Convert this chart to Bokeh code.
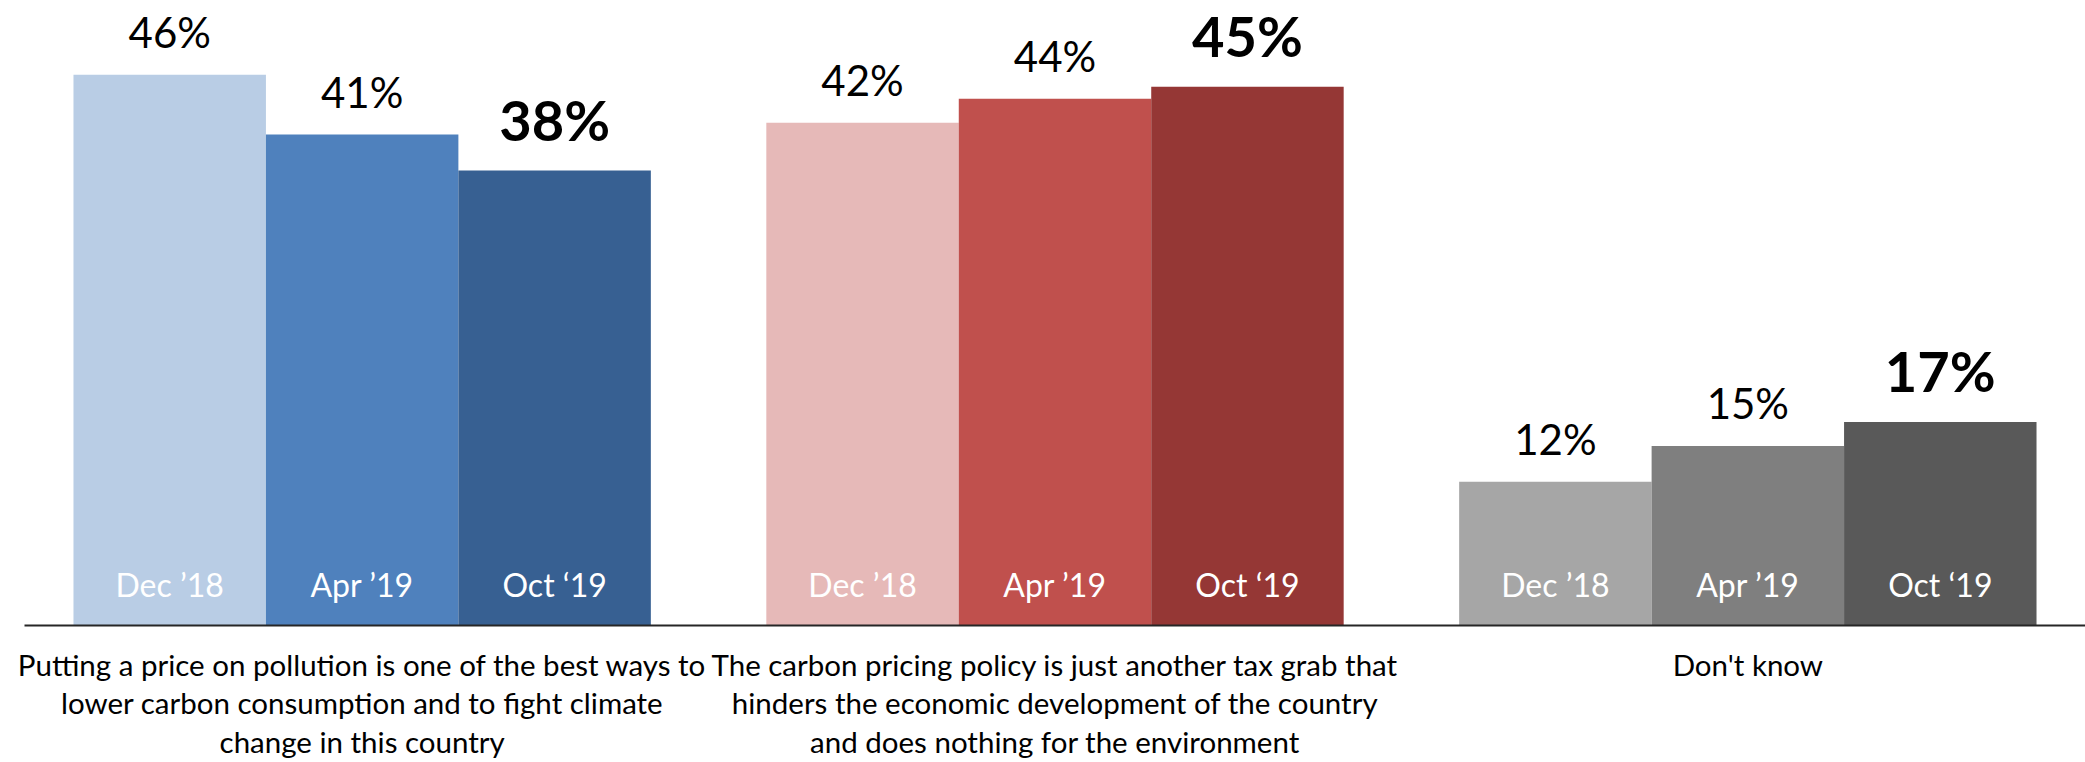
from bokeh.plotting import figure
from bokeh.models import FactorRange, ColumnDataSource, Range1d
from bokeh.core.properties import value
from bokeh.embed import file_html
from bokeh.resources import INLINE

# ---- data ----
groups = [
    "Putting a price on pollution is one of the best ways to\nlower carbon consumption and to fight climate\nchange in this country",
    "The carbon pricing policy is just another tax grab that\nhinders the economic development of the country\nand does nothing for the environment",
    "Don't know",
]
periods = ["Dec \u201918", "Apr \u201919", "Oct \u201819"]
dec18 = [46, 42, 12]
apr19 = [41, 44, 15]
oct19 = [38, 45, 17]
colors_blue = ["#B9CDE5", "#4F81BD", "#376092"]
colors_red = ["#E6B9B8", "#C0504D", "#953735"]
colors_gray = ["#A6A6A6", "#7F7F7F", "#595959"]

series = [dec18, apr19, oct19]
palette = [colors_blue, colors_red, colors_gray]

x, vals, cols, per = [], [], [], []
for gi, g in enumerate(groups):
    for pi, p_ in enumerate(periods):
        x.append((g, p_))
        vals.append(series[pi][gi])
        cols.append(palette[gi][pi])
        per.append(p_)

src = ColumnDataSource(dict(x=x, v=vals, c=cols, per=per))
reg_idx = [i for i in range(len(x)) if per[i] != periods[-1]]
bold_idx = [i for i in range(len(x)) if per[i] == periods[-1]]
src_reg = ColumnDataSource(dict(x=[x[i] for i in reg_idx], v=[vals[i] for i in reg_idx],
                                lab=[f"{vals[i]}%" for i in reg_idx]))
src_bold = ColumnDataSource(dict(x=[x[i] for i in bold_idx], v=[vals[i] for i in bold_idx],
                                 lab=[f"{vals[i]}%" for i in bold_idx]))

FONT = "Lato"

p = figure(
    x_range=FactorRange(*x, group_padding=0.6, range_padding=0.2545,
                        range_padding_units="absolute"),
    y_range=Range1d(0, 52.2),
    width=2085, height=762,
    output_backend="svg", toolbar_location=None,
    min_border_left=24, min_border_right=0, min_border_top=0, min_border_bottom=120,
)

p.vbar(x="x", top="v", width=1.0, source=src, fill_color="c", line_color=None)

# period labels inside bars
p.text(x="x", y=0, text="per", source=src, text_color="white",
       text_font=value(FONT), text_font_size="32px",
       text_align="center", text_baseline="alphabetic", y_offset=-41)

# value labels
p.text(x="x", y="v", text="lab", source=src_reg, text_color="black",
       text_font=value(FONT), text_font_size="42px",
       text_align="center", text_baseline="alphabetic", y_offset=-43)
p.text(x="x", y="v", text="lab", source=src_bold, text_color="black",
       text_font=value(FONT), text_font_size="56px", text_font_style="bold",
       text_align="center", text_baseline="alphabetic", y_offset=-51)

p.yaxis.visible = False
p.xgrid.visible = False
p.ygrid.visible = False
p.outline_line_color = None

ax = p.xaxis[0]
ax.axis_line_color = "#262626"
ax.axis_line_width = 2
ax.major_tick_line_color = None
ax.minor_tick_line_color = None
ax.major_tick_out = 0
ax.major_label_text_color = None
ax.major_label_standoff = 21
ax.separator_line_alpha = 0
ax.group_text_font = FONT
ax.group_text_font_size = "29.5px"
ax.group_text_font_style = "normal"
ax.group_text_color = "black"
ax.group_text_line_height = 1.11

open("out.html", "w").write(file_html(p, INLINE))
